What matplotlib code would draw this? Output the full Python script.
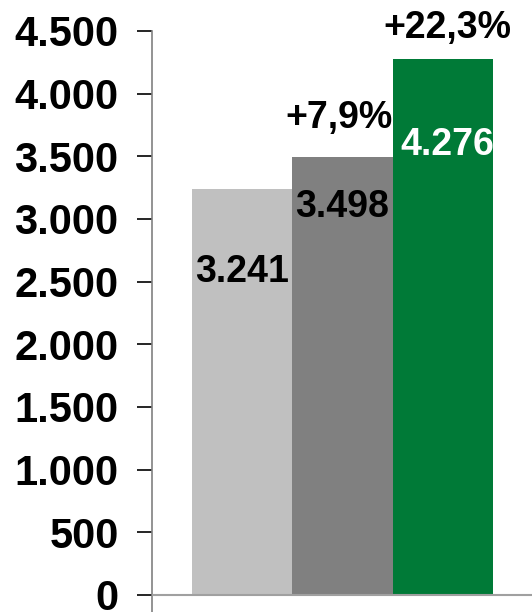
import matplotlib
matplotlib.use('Agg')
import matplotlib.pyplot as plt

# Data
categories = ['A', 'B', 'C']
values = [3241, 3498, 4276]
growth = [None, '+7,9%', '+22,3%']
bar_colors = ['#C0C0C0', '#808080', '#007A37']
value_colors = ['black', 'black', 'white']

plt.rcParams['font.family'] = ['Liberation Sans', 'DejaVu Sans']
plt.rcParams['font.weight'] = 'bold'

fig = plt.figure(figsize=(5.32, 6.12), dpi=100)
ax = fig.add_axes([152 / 532, 0, 380 / 532, 581 / 612])

x = list(range(len(values)))
ax.bar(x, values, width=1.0, color=bar_colors, zorder=2)

ax.set_xlim(-0.9, 2.89)
ax.set_ylim(-136, 4500)
ax.set_yticks(range(0, 4501, 500))
ax.set_yticklabels([f'{v:,}'.replace(',', '.') for v in range(0, 4501, 500)],
                   fontsize=30, fontweight='bold')
ax.tick_params(axis='y', length=11, width=1.2, pad=13, color='black')
ax.set_xticks([])

for s in ['top', 'right', 'bottom']:
    ax.spines[s].set_visible(False)
ax.spines['left'].set_color('#808080')
ax.spines['left'].set_linewidth(1.2)
ax.axhline(0, color='#A0A0A0', lw=1.5, zorder=3)

# value labels inside bars (positions in data units)
value_label_y = [2577, 3096, 3590]
value_label_dx = [0, 0, 0.05]
for i, v in enumerate(values):
    ax.text(i + value_label_dx[i], value_label_y[i], f'{v:,}'.replace(',', '.'),
            ha='center', va='center', fontsize=27, fontweight='bold',
            color=value_colors[i], zorder=4)

# growth labels above bars
growth_label_y = [None, 3806, 4524]
growth_label_dx = [0, -0.03, 0.05]
for i, g in enumerate(growth):
    if g:
        ax.text(i + growth_label_dx[i], growth_label_y[i], g, ha='center', va='center',
                fontsize=27, fontweight='bold', color='black', clip_on=False)

fig.savefig('out.png', dpi=100)
